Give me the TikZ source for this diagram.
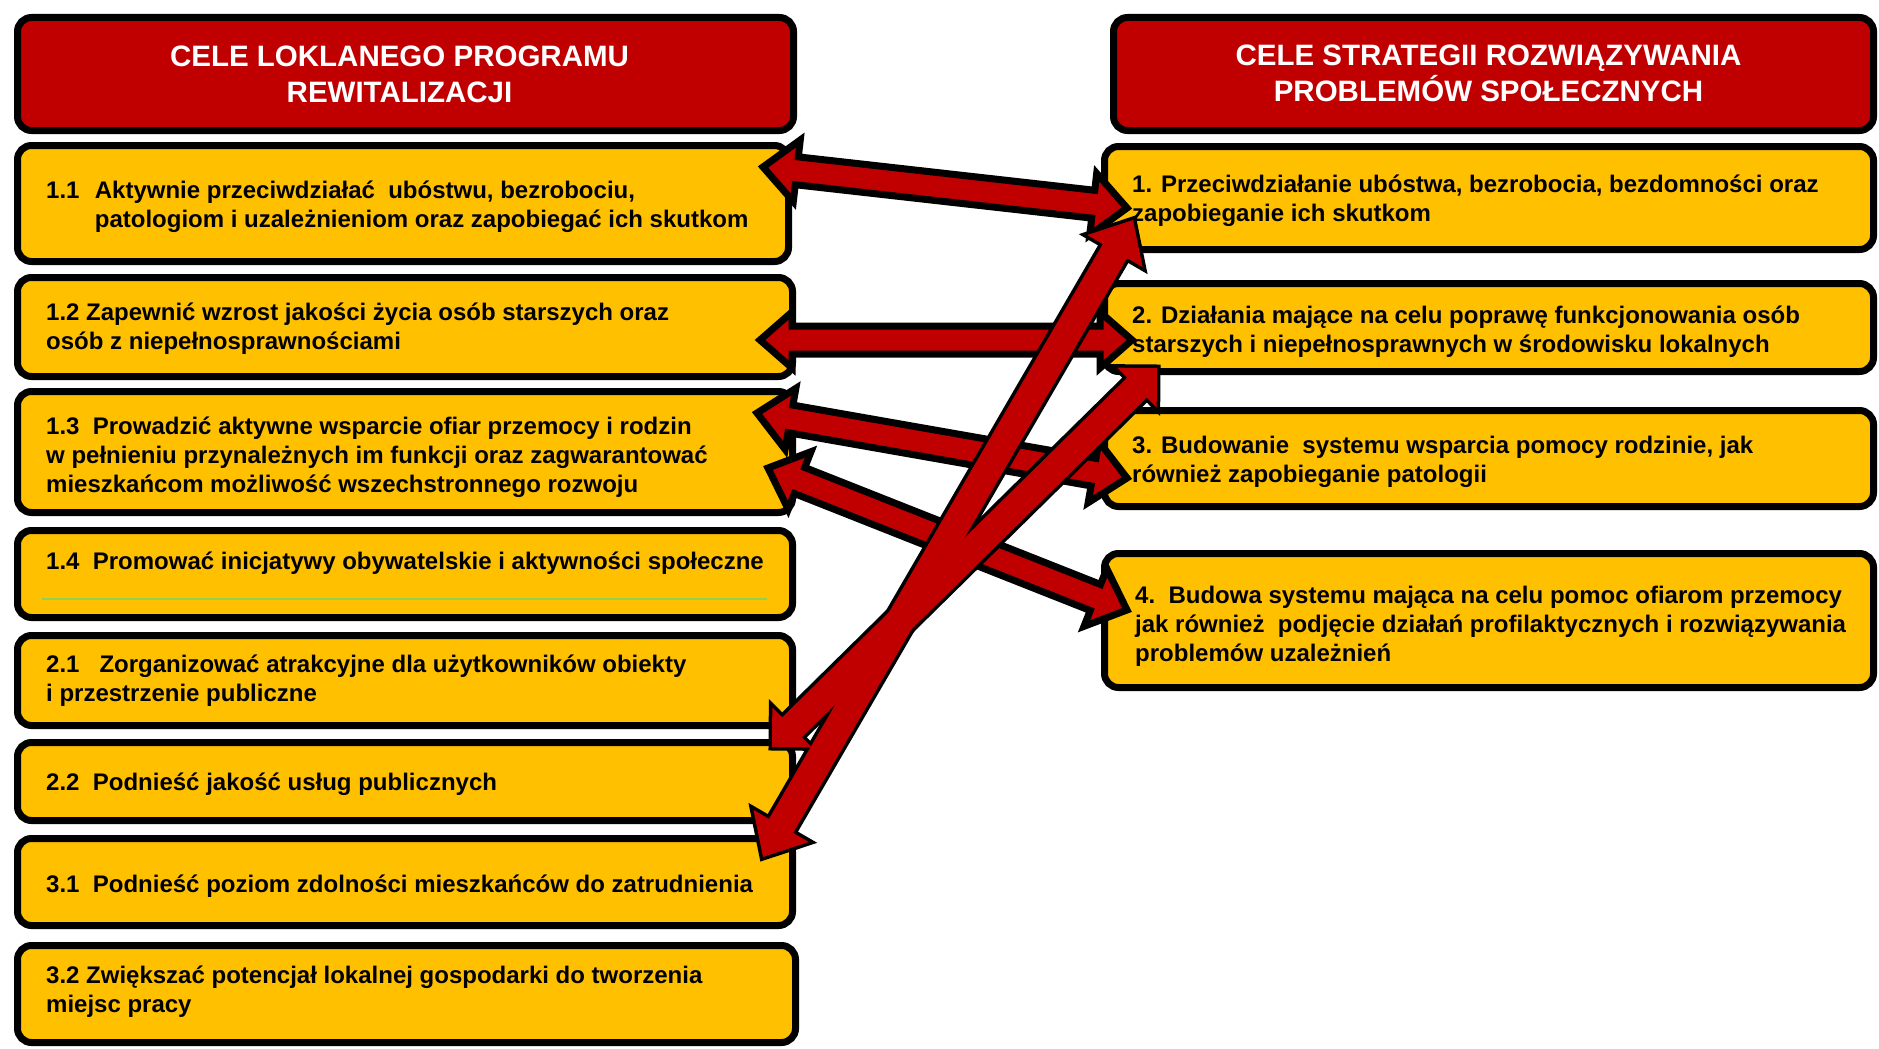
\documentclass[tikz,border=0pt]{standalone}
\usepackage{fontspec}
\setmainfont{Liberation Sans}
\usetikzlibrary{calc}
\definecolor{boxred}{RGB}{192,0,0}
\definecolor{boxyel}{RGB}{255,192,0}
\definecolor{lgreen}{RGB}{146,208,80}
\tikzset{
  box/.style={draw=black, line width=7pt, rounded corners=14pt, fill=boxyel, outer sep=0pt, inner sep=0pt},
  hbox/.style={box, fill=boxred, text=white, align=center, font=\bfseries\fontsize{29.5}{36}\selectfont},
  htxt/.style={text=white, align=center, inner sep=0pt, font=\bfseries\fontsize{29.5}{36}\selectfont},
  txt/.style={anchor=west, align=left, inner sep=0pt, font=\bfseries\fontsize{24}{29}\selectfont},
  bigarr/.style={draw=black, fill=boxred, line width=7pt, line join=miter, miter limit=10},
  arrline/.style={draw=black, line width=7pt, line join=miter, miter limit=10},
  arrfill/.style={fill=boxred, draw=none},
}
\newcommand{\dblarrow}[6][bigarr]{%
  \coordinate (ba) at ($(#2)!#6!(#3)$);
  \coordinate (bb) at ($(#3)!#6!(#2)$);
  \path[#1] (#2) -- ($(ba)!#5!90:(#3)$) -- ($(ba)!#4!90:(#3)$) -- ($(bb)!#4!-90:(#2)$) -- ($(bb)!#5!-90:(#2)$) -- (#3) -- ($(bb)!#5!90:(#2)$) -- ($(bb)!#4!90:(#2)$) -- ($(ba)!#4!-90:(#3)$) -- ($(ba)!#5!-90:(#3)$) -- cycle;}
\begin{document}
\begin{tikzpicture}[x=1pt, y=-1pt]
\useasboundingbox[fill=white] (0,0) rectangle (1879,1049);
% headers
\node[box, fill=boxred, minimum width=776pt, minimum height=113pt] (LH) at (405.5,74) {};
\node[box, fill=boxred, minimum width=760pt, minimum height=113pt] (RH) at (1493.5,74) {};
\node[htxt] (LHt) at ($(LH.center)+(-6,0)$) {CELE LOKLANEGO PROGRAMU\\REWITALIZACJI};
\node[htxt] (RHt) at ($(RH.center)+(-5,-1)$) {CELE STRATEGII ROZWIĄZYWANIA\\PROBLEMÓW SPOŁECZNYCH};
% left boxes
\node[box, minimum width=771pt, minimum height=116pt] (L11) at (403,203.5) {};
\node[box, minimum width=775pt, minimum height=99pt] (L12) at (405,327) {};
\node[box, minimum width=775pt, minimum height=121pt] (L13) at (405,452) {};
\node[box, minimum width=775pt, minimum height=87pt] (L14) at (405,574) {};
\node[box, minimum width=775pt, minimum height=90pt] (L21) at (405,680.5) {};
\node[box, minimum width=775pt, minimum height=78pt] (L22) at (405,781.5) {};
\node[box, minimum width=775pt, minimum height=87pt] (L31) at (405,882) {};
\node[box, minimum width=778pt, minimum height=97pt] (L32) at (406.5,994) {};
% right boxes
\node[box, minimum width=769pt, minimum height=103pt] (R1) at (1489,198) {};
\node[box, minimum width=769pt, minimum height=88pt] (R2) at (1489,327.5) {};
\node[box, minimum width=769pt, minimum height=96pt] (R3) at (1489,458.5) {};
\node[box, minimum width=769pt, minimum height=134pt] (R4) at (1489,620.5) {};
% green line
\draw[lgreen, line width=2pt] ($(L14.south west)+(24.5,-18.5)$) -- ($(L14.south east)+(-25.5,-18.5)$);
% texts left
\node[txt] (T11) at ($(L11.west)+(28.5,3)$) {\makebox[48.7pt][l]{1.1}Aktywnie przeciwdziałać\ \ ubóstwu, bezrobociu,\\\hspace*{48.7pt}patologiom i uzależnieniom oraz zapobiegać ich skutkom};
\node[txt] (T12) at ($(L12.west)+(28.5,2)$) {1.2 Zapewnić wzrost jakości życia osób starszych oraz\\osób z niepełnosprawnościami};
\node[txt] (T13) at ($(L13.west)+(28.5,5)$) {1.3\ \ Prowadzić aktywne wsparcie ofiar przemocy i rodzin\\w pełnieniu przynależnych im funkcji oraz zagwarantować\\mieszkańcom możliwość wszechstronnego rozwoju};
\node[txt] (T14) at ($(L14.west)+(28.5,-11)$) {1.4\ \ Promować inicjatywy obywatelskie i aktywności społeczne};
\node[txt] (T21) at ($(L21.west)+(28.5,0.5)$) {2.1\ \ \ Zorganizować atrakcyjne dla użytkowników obiekty\\i przestrzenie publiczne};
\node[txt] (T22) at ($(L22.west)+(28.5,3)$) {2.2\ \ Podnieść jakość usług publicznych};
\node[txt] (T31) at ($(L31.west)+(28.5,4)$) {3.1\ \ Podnieść poziom zdolności mieszkańców do zatrudnienia};
\node[txt] (T32) at ($(L32.west)+(28.5,-2)$) {3.2 Zwiększać potencjał lokalnej gospodarki do tworzenia\\miejsc pracy};
% texts right
\node[txt] (TR1) at ($(R1.west)+(27.5,3)$) {1. Przeciwdziałanie ubóstwa, bezrobocia, bezdomności oraz\\zapobieganie ich skutkom};
\node[txt] (TR2) at ($(R2.west)+(27.5,4)$) {2. Działania mające na celu poprawę funkcjonowania osób\\starszych i niepełnosprawnych w środowisku lokalnych};
\node[txt] (TR3) at ($(R3.west)+(27.5,3)$) {3. Budowanie\ \ systemu wsparcia pomocy rodzinie, jak\\również zapobieganie patologii};
\node[txt] (TR4) at ($(R4.west)+(30.5,6)$) {4.\ \ Budowa systemu mająca na celu pomoc ofiarom przemocy\\jak również\ \ podjęcie działań profilaktycznych i rozwiązywania\\problemów uzależnień};
% arrow ends
\coordinate (aL) at ($(L11.east)+(-25.5,-36.5)$);
\coordinate (aR) at ($(R1.west)+(22.5,10)$);
\coordinate (bL) at ($(L12.east)+(-32.5,13)$);
\coordinate (bR) at ($(R2.west)+(27.5,12.5)$);
\coordinate (cL) at ($(L13.east)+(-35.5,-39)$);
\coordinate (cR) at ($(R3.west)+(22.5,19.5)$);
\coordinate (dL) at ($(L13.east)+(-24.5,16)$);
\coordinate (dR) at ($(R4.west)+(22.5,-10.5)$);
\coordinate (eL) at ($(L21.south east)+(-20.5,21.5)$);
\coordinate (eR) at ($(R2.south west)+(52.5,-3.5)$);
\coordinate (fL) at ($(L31.north east)+(-29.5,18.5)$);
\coordinate (fR) at ($(R1.west)+(28.5,22)$);
% arrows
\dblarrow{aL}{aR}{14pt}{31pt}{34pt}
\dblarrow{bL}{bR}{14pt}{28pt}{32pt}
\dblarrow{cL}{cR}{14pt}{31pt}{34pt}
\dblarrow{dL}{dR}{14pt}{31pt}{34pt}
\dblarrow[arrline]{eL}{eR}{14pt}{28pt}{28pt}
\dblarrow[arrline]{fL}{fR}{14pt}{32pt}{36pt}
\dblarrow[arrfill]{eL}{eR}{14pt}{28pt}{28pt}
\dblarrow[arrfill]{fL}{fR}{14pt}{32pt}{36pt}
\end{tikzpicture}
\end{document}
